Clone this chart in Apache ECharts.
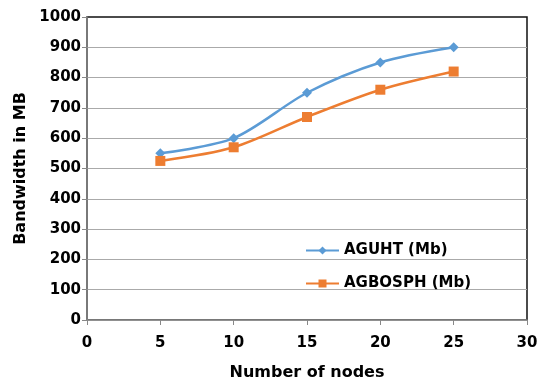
<!DOCTYPE html>
<html>
<head>
<meta charset="utf-8">
<script src="https://cdn.jsdelivr.net/npm/echarts@6/dist/echarts.min.js"></script>
<style>
  html, body { margin: 0; padding: 0; background: #fff; }
  #chart { width: 542px; height: 383px; }
</style>
</head>
<body>
<div id="chart"></div>
<script>
// data
var nodes = [5, 10, 15, 20, 25];
var aguht = [550, 600, 750, 850, 900];
var agbosph = [525, 570, 670, 760, 820];

function pairs(xs, ys) {
    var out = [];
    for (var i = 0; i < xs.length; i++) {
        out.push([xs[i], ys[i]]);
    }
    return out;
}

var font = 'DejaVu Sans';
var myChart = echarts.init(document.getElementById('chart'));

var option = {
    animation: false,
    textStyle: { fontFamily: font },
    grid: {
        left: 87, right: 15, top: 17, bottom: 63,
        show: true, borderColor: '#111', borderWidth: 1.5,
        containLabel: false,
        outerBoundsMode: 'none'
    },
    legend: {
        orient: 'vertical',
        left: 300, top: 238,
        itemGap: 18,
        itemWidth: 33, itemHeight: 10,
        textStyle: { fontFamily: font, fontWeight: 'bold', fontSize: 15, color: '#000' },
        data: ['AGUHT (Mb)', 'AGBOSPH (Mb)']
    },
    xAxis: {
        type: 'value',
        min: 0, max: 30, interval: 5,
        name: 'Number of nodes',
        nameLocation: 'middle',
        nameGap: 45,
        nameTextStyle: { fontFamily: font, fontWeight: 'bold', fontSize: 16, color: '#000' },
        axisLine: { lineStyle: { color: '#888', width: 1.5 } },
        axisTick: { show: true, length: 5, lineStyle: { color: '#888' } },
        axisLabel: { fontFamily: font, fontWeight: 'bold', fontSize: 15, color: '#000', margin: 16 },
        splitLine: { show: false }
    },
    yAxis: {
        type: 'value',
        min: 0, max: 1000, interval: 100,
        name: 'Bandwidth in MB',
        nameLocation: 'middle',
        nameGap: 53,
        nameTextStyle: { fontFamily: font, fontWeight: 'bold', fontSize: 16, color: '#000' },
        axisLine: { show: true, lineStyle: { color: '#888', width: 1.5 } },
        axisTick: { show: true, length: 5, lineStyle: { color: '#888' } },
        axisLabel: {
            fontFamily: font, fontWeight: 'bold', fontSize: 15, color: '#000', margin: 6,
            formatter: function (v) { return String(v); }
        },
        splitLine: { show: true, showMaxLine: false, lineStyle: { color: '#aaa', width: 1 } }
    },
    series: [
        {
            name: 'AGUHT (Mb)',
            type: 'line',
            smooth: 0.3,
            data: pairs(nodes, aguht),
            symbol: 'diamond',
            symbolSize: 10,
            itemStyle: { color: '#5b9bd5' },
            lineStyle: { color: '#5b9bd5', width: 2.5 }
        },
        {
            name: 'AGBOSPH (Mb)',
            type: 'line',
            smooth: 0.3,
            data: pairs(nodes, agbosph),
            symbol: 'rect',
            symbolSize: 10,
            itemStyle: { color: '#ed7d31' },
            lineStyle: { color: '#ed7d31', width: 2.5 }
        }
    ]
};
myChart.setOption(option);
</script>
</body>
</html>
